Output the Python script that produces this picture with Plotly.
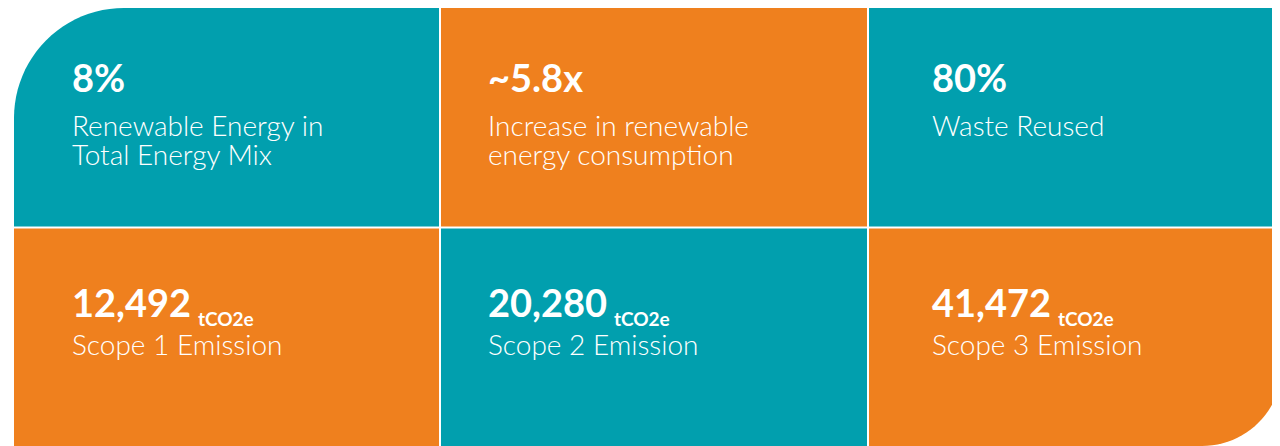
import math
import plotly.graph_objects as go

# ---- data ----
values = ["8%", "~5.8x", "80%", "12,492", "20,280", "41,472"]
units = ["", "", "", "tCO2e", "tCO2e", "tCO2e"]
labels = [
    "Renewable Energy in<br>Total Energy Mix",
    "Increase in renewable<br>energy consumption",
    "Waste Reused",
    "Scope 1 Emission",
    "Scope 2 Emission",
    "Scope 3 Emission",
]
tile_kind = ["teal", "orange", "teal", "orange", "teal", "orange"]

# ---- style / layout ----
W, H = 1280, 446
BODY_MARGIN = 8  # default page margin around the plot div
COLORS = {"teal": "#019FAE", "orange": "#EF801E"}
col_edges = [14, 440, 868, 1282]
row_edges = [8, 227.5, 446]
GAP = 1.0
R_TL, R_BR = 110, 80
text_x = [71, 487, 931]
value_top = [53, 278]
label_top = [106.5, 325.5]
LINE_STEP = 29
VAL_FS, LAB_FS, UNIT_FS, UNIT_DROP, UNIT_GAP_FS = 38, 28, 19, 9, 28
FONT = "Lato"

fig = go.Figure()


def arc_path(x0, y0, x1, y1, rtl=0, rbr=0, n=24):
    pts = []
    if rtl:
        cx, cy = x0 + rtl, y0 + rtl
        for i in range(n + 1):
            a = math.pi + (math.pi / 2) * i / n
            pts.append((cx + rtl * math.cos(a), cy + rtl * math.sin(a)))
    else:
        pts.append((x0, y0))
    pts.append((x1, y0))
    if rbr:
        cx, cy = x1 - rbr, y1 - rbr
        for i in range(n + 1):
            a = (math.pi / 2) * i / n
            pts.append((cx + rbr * math.cos(a), cy + rbr * math.sin(a)))
    else:
        pts.append((x1, y1))
    pts.append((x0, y1))
    return "M " + " L ".join(f"{x:.2f},{y:.2f}" for x, y in pts) + " Z"


ncols = 3
for i, val in enumerate(values):
    r, c = divmod(i, ncols)
    x0 = col_edges[c] + (GAP if c > 0 else 0)
    x1 = col_edges[c + 1] - (GAP if c < ncols - 1 else 0)
    y0 = row_edges[r] + (GAP if r > 0 else 0)
    y1 = row_edges[r + 1] - (GAP if r < 1 else 0)
    rtl = R_TL if (r == 0 and c == 0) else 0
    rbr = R_BR if (r == 1 and c == ncols - 1) else 0
    fig.add_shape(type="path", path=arc_path(x0, y0, x1, y1, rtl, rbr),
                  xref="x", yref="y", fillcolor=COLORS[tile_kind[i]],
                  line=dict(width=0), layer="below")
    txt = val
    if units[i]:
        txt = (f"{val}<span style='font-size:{UNIT_GAP_FS}px'> </span>"
               f"<span style='font-size:{UNIT_FS}px;"
               f"baseline-shift:-{UNIT_DROP}px'>{units[i]}</span>")
    fig.add_annotation(x=text_x[c], y=value_top[r], text=txt, showarrow=False,
                       xref="x", yref="y", xanchor="left", yanchor="top",
                       align="left", borderpad=0,
                       font=dict(family=FONT, size=VAL_FS, color="white", weight=700))
    for k, line in enumerate(labels[i].split("<br>")):
        fig.add_annotation(x=text_x[c], y=label_top[r] + k * LINE_STEP, text=line,
                           showarrow=False, xref="x", yref="y",
                           xanchor="left", yanchor="top", align="left", borderpad=0,
                           font=dict(family=FONT, size=LAB_FS, color="white", weight=300))

fig.update_layout(
    width=W - BODY_MARGIN, height=H - BODY_MARGIN,
    margin=dict(l=0, r=0, t=0, b=0, pad=0),
    paper_bgcolor="white", plot_bgcolor="white",
    xaxis=dict(range=[BODY_MARGIN, W], visible=False, fixedrange=True),
    yaxis=dict(range=[H, BODY_MARGIN], visible=False, fixedrange=True),
    showlegend=False,
)
fig.write_html("out.html")
